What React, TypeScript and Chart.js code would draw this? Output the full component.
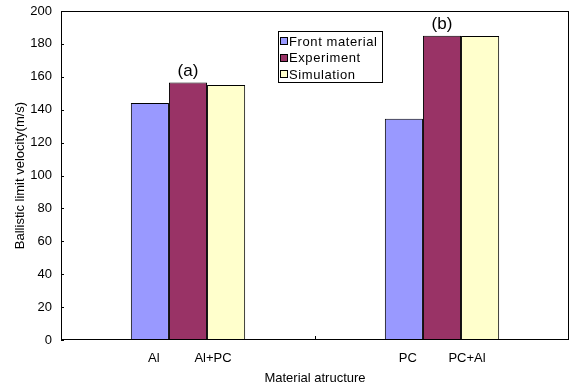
import React, { useEffect, useRef } from "react";
import { Chart, registerables } from "chart.js";

Chart.register(...registerables);

const groups = ["Al / Al+PC", "PC / PC+Al"];
const frontLabels = ["Al", "PC"];
const combinedLabels = ["Al+PC", "PC+Al"];
const groupNotes = ["(a)", "(b)"];
const frontMaterial = [144, 134.5];
const experiment = [156.5, 185];
const simulation = [155, 184.8];
const seriesNames = ["Front material", "Experiment", "Simulation"];
const seriesColors = ["#9999FF", "#993366", "#FFFFCC"];
const yTitle = "Ballistic limit velocity(m/s)";
const xTitle = "Material atructure";

const FONT = "'Liberation Sans', Arial, sans-serif";

const overlay = {
  id: "overlay",
  afterDraw(chart: any) {
    const ctx = chart.ctx;
    const a = chart.chartArea;
    const x = chart.scales.x;
    const y = chart.scales.y;
    ctx.save();
    // frame
    ctx.strokeStyle = "#000";
    ctx.lineWidth = 1;
    ctx.strokeRect(Math.round(a.left) + 0.5, Math.round(a.top) + 0.5, Math.round(a.right - a.left) - 1, Math.round(a.bottom - a.top) - 1);
    // y inside ticks
    y.ticks.forEach((t: any) => {
      const py = Math.round(y.getPixelForValue(t.value)) + 0.5;
      ctx.beginPath();
      ctx.moveTo(a.left, py);
      ctx.lineTo(a.left + 3, py);
      ctx.stroke();
    });
    // x inside tick between categories
    for (let i = 1; i < groups.length; i++) {
      const px = Math.round((x.getPixelForValue(i - 1) + x.getPixelForValue(i)) / 2) + 0.5;
      ctx.beginPath();
      ctx.moveTo(px, a.bottom);
      ctx.lineTo(px, a.bottom - 4);
      ctx.stroke();
    }
    const m0 = chart.getDatasetMeta(0).data;
    const m1 = chart.getDatasetMeta(1).data;
    ctx.fillStyle = "#000";
    ctx.textAlign = "center";
    ctx.textBaseline = "middle";
    ctx.font = `13px ${FONT}`;
    for (let i = 0; i < groups.length; i++) {
      const b0 = m0[i];
      const b1 = m1[i];
      ctx.fillText(frontLabels[i], b0.x + 4, a.bottom + 18);
      ctx.fillText(combinedLabels[i], b1.x + b1.width / 2 + 6, a.bottom + 18);
      ctx.font = `17px ${FONT}`;
      ctx.fillText(groupNotes[i], b1.x, b1.y - 11);
      ctx.font = `13px ${FONT}`;
    }
    // axis titles
    ctx.fillText(xTitle, (a.left + a.right) / 2, 378);
    ctx.save();
    ctx.translate(20, (a.top + a.bottom) / 2);
    ctx.rotate(-Math.PI / 2);
    ctx.fillText(yTitle, 0, 0);
    ctx.restore();
    // legend
    const lx = 278, ly = 31, lw = 104, lh = 51;
    ctx.fillStyle = "#fff";
    ctx.fillRect(lx, ly, lw, lh);
    ctx.strokeStyle = "#000";
    ctx.strokeRect(lx + 0.5, ly + 0.5, lw, lh);
    ctx.textAlign = "left";
    ctx.font = `13px ${FONT}`;
    (ctx as any).letterSpacing = "0.6px";
    seriesNames.forEach((name, i) => {
      const cy = 41 + i * 16.6;
      ctx.fillStyle = seriesColors[i];
      ctx.fillRect(280.5, Math.round(cy) - 3.5, 7, 7);
      ctx.strokeStyle = "#000";
      ctx.strokeRect(280.5, Math.round(cy) - 3.5, 7, 7);
      ctx.fillStyle = "#000";
      ctx.fillText(name, 289, cy + 1);
    });
    (ctx as any).letterSpacing = "0px";
    ctx.restore();
  },
};

export default function App() {
  const ref = useRef<HTMLCanvasElement | null>(null);
  useEffect(() => {
    document.body.style.margin = "0";
    const data = [frontMaterial, experiment, simulation];
    const chart = new Chart(ref.current as HTMLCanvasElement, {
      type: "bar",
      data: {
        labels: groups,
        datasets: seriesNames.map((n, i) => ({
          label: n,
          data: data[i],
          backgroundColor: seriesColors[i],
          borderColor: "#000",
          borderWidth: 1,
          categoryPercentage: 0.45,
          barPercentage: 1.0,
        })),
      },
      options: {
        responsive: false,
        animation: false,
        layout: { padding: { left: 0, right: 2, top: 11, bottom: 0 } },
        plugins: { legend: { display: false }, tooltip: { enabled: false }, title: { display: false } },
        scales: {
          x: {
            ticks: { display: false },
            grid: { display: false, drawTicks: false },
            border: { display: false },
            afterFit: (s: any) => { s.height = 47; s.paddingLeft = 0; s.paddingRight = 0; },
          },
          y: {
            min: 0,
            max: 200,
            ticks: { stepSize: 20, padding: 9, color: "#000", font: { family: FONT, size: 13 } },
            grid: { display: false, drawTicks: false },
            border: { display: false },
            afterFit: (s: any) => { s.width = 61; s.paddingTop = 0; s.paddingBottom = 0; },
          },
        },
      },
      plugins: [overlay],
    });
    return () => chart.destroy();
  }, []);
  return (
    <div style={{ width: 571, height: 387 }}>
      <canvas ref={ref} width={571} height={387} />
    </div>
  );
}
